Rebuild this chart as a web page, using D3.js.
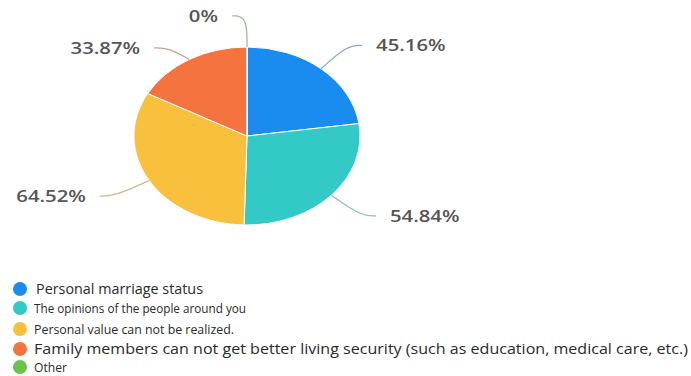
<!DOCTYPE html>
<html lang="en">
<head>
<meta charset="UTF-8">
<script src="https://cdnjs.cloudflare.com/ajax/libs/d3/7.8.4/d3.min.js"></script>
<title>Pie</title>
<style>
  body { margin: 0; background: #fff; }
</style>
</head>
<body>
<script>
// data
const categories = [
  "Personal marriage status",
  "The opinions of the people around you",
  "Personal value can not be realized.",
  "Family members can not get better living security (such as education, medical care, etc.)",
  "Other"
]
const values = [45.16, 54.84, 64.52, 33.87, 0]
const labels = ["45.16%", "54.84%", "64.52%", "33.87%", "0%"]
const colors = ["#1a8cf0", "#33c9c6", "#f9c03d", "#f4733e", "#6cc24a"]

const W = 691, H = 376
const cx = 247, cy = 136, r = 89, sx = 1.27   // picture is stretched sideways

let svg = d3.select("body").append("svg")
  .attr("width", W)
  .attr("height", H)

let pie = d3.pie().sort(null).value(d => d)
let arcs = pie(values)
let arc = d3.arc().innerRadius(0).outerRadius(r)

let g = svg.append("g")
  .attr("transform", `translate(${cx},${cy}) scale(${sx},1)`)

g.selectAll("path.slice").data(arcs).enter().append("path")
  .attr("class", "slice")
  .attr("d", arc)
  .attr("fill", (d, i) => colors[i])
  .attr("stroke", "#fff")
  .attr("stroke-width", 1)
  .attr("vector-effect", "non-scaling-stroke")

// label layout, ECharts style: radial leg then short horizontal leg
let lay = arcs.map((d, i) => {
  let a = (d.startAngle + d.endAngle) / 2
  let left = Math.sin(a) < 1e-9
  return {
    i, left,
    A: [Math.sin(a) * r, -Math.cos(a) * r],
    B: [Math.sin(a) * r * 1.35, -Math.cos(a) * r * 1.35]
  }
})
// push labels apart on each side
;[true, false].forEach(side => {
  let items = lay.filter(l => l.left === side).sort((a, b) => a.B[1] - b.B[1])
  for (let k = 1; k < items.length; k++) {
    if (items[k].B[1] - items[k - 1].B[1] < 32) items[k].B[1] = items[k - 1].B[1] + 32
  }
})

let len2 = 15 / sx
let line = d3.line().curve(d3.curveBasis)

lay.forEach(l => {
  let dir = l.left ? -1 : 1
  let C = [l.B[0] + dir * len2, l.B[1]]
  g.append("path")
    .attr("d", line([l.A, l.B, C]))
    .attr("fill", "none")
    .attr("stroke", d3.interpolateRgb(colors[l.i], "#999")(0.6))
    .attr("stroke-opacity", 0.8)
    .attr("stroke-width", 1.3)
    .attr("vector-effect", "non-scaling-stroke")
  g.append("text")
    .attr("x", C[0] + dir * 14 / sx)
    .attr("y", C[1])
    .attr("dy", "0.36em")
    .attr("text-anchor", l.left ? "end" : "start")
    .style("font-family", "'Open Sans', sans-serif")
    .style("font-weight", 600)
    .style("font-size", "16px")
    .style("fill", "#555")
    .text(labels[l.i])
})

// legend
const legendY = [289, 308, 329, 349, 367]
const legendSize = [15, 13, 13, 15, 13]
const legendLen = [167, 212, 200, 654, 33]

let leg = svg.append("g")
leg.selectAll("circle").data(categories).enter().append("circle")
  .attr("cx", 20)
  .attr("cy", (d, i) => legendY[i])
  .attr("r", 7)
  .attr("fill", (d, i) => colors[i])

leg.selectAll("text").data(categories).enter().append("text")
  .attr("x", (d, i) => i == 0 ? 36 : 34)
  .attr("y", (d, i) => legendY[i])
  .attr("dy", "0.35em")
  .attr("textLength", (d, i) => legendLen[i])
  .attr("lengthAdjust", "spacingAndGlyphs")
  .style("font-family", "'Open Sans', sans-serif")
  .style("font-size", (d, i) => legendSize[i] + "px")
  .style("fill", "#2a2a2a")
  .text(d => d)
</script>
</body>
</html>
